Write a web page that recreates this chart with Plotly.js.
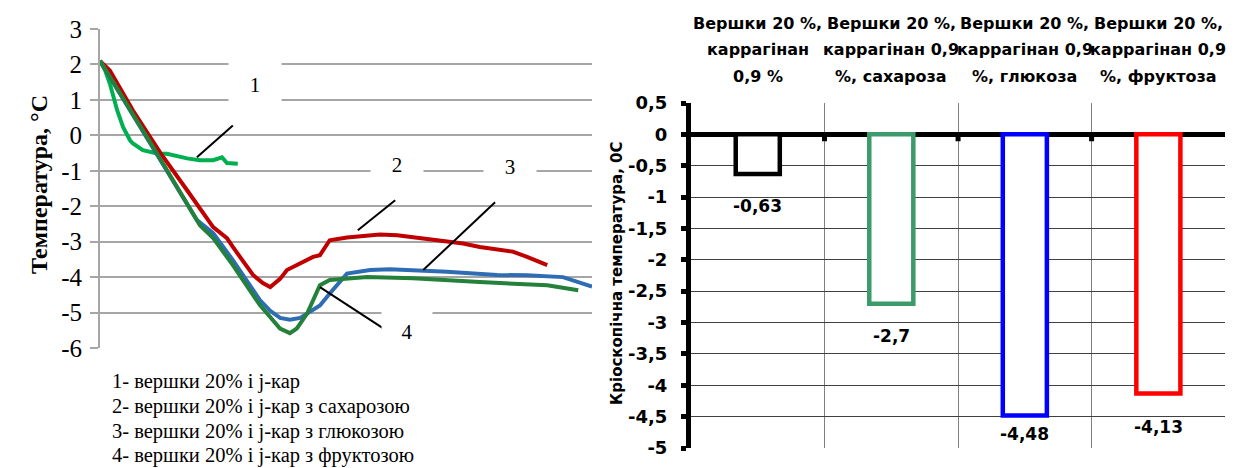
<!DOCTYPE html>
<html><head><meta charset="utf-8">
<script src="https://cdn.plot.ly/plotly-3.0.1.min.js"></script>
<style>html,body{margin:0;padding:0;background:#fff}#chart{width:1236px;height:468px}</style>
</head><body><div id="chart"></div>
<script>
// ---- Left chart: temperature curves (time in arbitrary units, temperature in °C)
const time1 = [0, 1.0, 2.0, 3.5, 4.7, 6.1, 6.7, 8.7, 11.6, 13.6, 17.7, 20.3, 23.0, 24.8, 25.8, 28.0];
const temp1 = [2.1, 1.85, 1.46, 0.70, 0.23, -0.14, -0.23, -0.42, -0.51, -0.52, -0.65, -0.70, -0.70, -0.62, -0.78, -0.80];

const time2 = [0, 2.0, 6.7, 12.2, 17.7, 23.0, 25.8, 27.0, 31.1, 33.1, 34.6, 36.6, 38.0, 39.2, 40.7, 43.3, 44.7, 46.7, 50.2, 56.9, 60.4, 65.7, 70.5, 73.8, 77.2, 83.9, 86.8, 90.9];
const temp2 = [2.1, 1.83, 0.7, -0.48, -1.55, -2.59, -2.9, -3.15, -3.94, -4.17, -4.28, -4.05, -3.8, -3.72, -3.6, -3.43, -3.38, -2.96, -2.88, -2.8, -2.82, -2.9, -3.0, -3.05, -3.15, -3.28, -3.43, -3.66];

const time3 = [0, 10.2, 19.7, 23.0, 27.0, 32.5, 34.6, 36.6, 38.6, 40.7, 43.3, 44.7, 46.7, 48.8, 50.2, 54.9, 58.9, 70.5, 80.7, 86.8, 94.1, 100];
const temp3 = [2.1, -0.2, -2.39, -2.76, -3.52, -4.65, -4.95, -5.15, -5.2, -5.15, -4.93, -4.8, -4.46, -4.1, -3.9, -3.8, -3.78, -3.85, -3.94, -3.95, -4.0, -4.27];

const time4 = [0, 10.8, 20.3, 23.0, 27.0, 32.5, 36.6, 38.6, 40.0, 42.1, 44.7, 46.7, 54.3, 63.6, 77.2, 90.9, 97.2];
const temp4 = [2.1, -0.33, -2.54, -2.9, -3.66, -4.79, -5.45, -5.58, -5.45, -5.03, -4.23, -4.08, -4.0, -4.03, -4.14, -4.23, -4.37];

const curveNames = ["1", "2", "3", "4"];
const legendLines = [
  "1- вершки 20% і j-кар",
  "2- вершки 20% і j-кар з сахарозою",
  "3- вершки 20% і j-кар з глюкозою",
  "4- вершки 20% і j-кар з фруктозою"
];
const leftTicks = [3, 2, 1, 0, -1, -2, -3, -4, -5, -6];

// ---- Right chart: cryoscopic temperature
const catLines = [
  ["Вершки 20 %,", "каррагінан", "0,9 %"],
  ["Вершки 20 %,", "каррагінан 0,9", "%, сахароза"],
  ["Вершки 20 %,", "каррагінан 0,9", "%, глюкоза"],
  ["Вершки 20 %,", "каррагінан 0,9", "%, фруктоза"]
];
const categories = catLines.map(l => l.join(" "));
const cryoValues = [-0.63, -2.7, -4.48, -4.13];
const rightTicks = [0.5, 0, -0.5, -1, -1.5, -2, -2.5, -3, -3.5, -4, -4.5, -5];

// ---- styles
const lineColors = ["#00B050", "#C00000", "#2E6DB4", "#23813A"];
const barColors = ["#000000", "#3D9A6B", "#0000FF", "#FF0000"];
const serif = "Liberation Serif, Times New Roman, serif";
const sans = "DejaVu Sans, Verdana, sans-serif";
const fmt = v => String(v).replace(".", ",");

const W = 1236, H = 468;
const L = {x0: 100, x1: 592, yTop: 29, yBot: 348};
const R = {x0: 691, x1: 1225, yTop: 103, yBot: 448};

const times = [time1, time2, time3, time4];
const temps = [temp1, temp2, temp3, temp4];
const traces = times.map((t, i) => ({
  type: "scatter", mode: "lines", x: t, y: temps[i], name: curveNames[i],
  xaxis: "x", yaxis: "y", line: {color: lineColors[i], width: 4}, hoverinfo: "skip"
}));
traces.push({
  type: "bar", x: categories, y: cryoValues, xaxis: "x2", yaxis: "y2", width: 0.33,
  marker: {color: "#FFFFFF", line: {color: barColors, width: 4.5}}, hoverinfo: "skip"
});

const annotations = [];
// curve number labels with white boxes
const labelPos = [
  {x: 31.5, y: 1.41, w: 50, h: 50},
  {x: 60.4, y: -0.85, w: 50, h: 36},
  {x: 83.3, y: -0.9, w: 50, h: 36},
  {x: 62.4, y: -5.55, w: 48, h: 46}
];
curveNames.forEach((n, i) => annotations.push({
  xref: "x", yref: "y", x: labelPos[i].x, y: labelPos[i].y, text: n, showarrow: false,
  bgcolor: "#FFFFFF", width: labelPos[i].w, height: labelPos[i].h,
  font: {family: serif, size: 21, color: "#000"}
}));
// legend text lines
const legendY = [381, 406, 431, 455];
legendLines.forEach((s, i) => annotations.push({
  xref: "paper", yref: "paper", x: 111 / W, y: (H - legendY[i]) / H, xanchor: "left", yanchor: "middle",
  text: s, showarrow: false, borderpad: 0, font: {family: serif, size: 20.5, color: "#000"}
}));
// left y title
annotations.push({
  xref: "paper", yref: "paper", x: 24 / W, y: (H - 185) / H, text: "Температура, °С", textangle: -90,
  showarrow: false, font: {family: serif, size: 24, color: "#000", weight: "bold"}
});
// right y title
annotations.push({
  xref: "paper", yref: "paper", x: 617 / W, y: (H - 273) / H, text: "Кріоскопічна температура, 0С", textangle: -90,
  showarrow: false, font: {family: sans, size: 15, color: "#000", weight: "bold"}
});
// category labels on top, one annotation per line
const catLineY = [23, 50, 77];
catLines.forEach((lines, i) => lines.forEach((s, j) => annotations.push({
  xref: "x2", yref: "paper", x: categories[i], y: (H - catLineY[j]) / H, yanchor: "middle",
  text: s, showarrow: false, font: {family: sans, size: 16, color: "#000", weight: "bold"}
})));
// value labels under bars
const valueShift = [-32, -32, -19, -34];
cryoValues.forEach((v, i) => annotations.push({
  xref: "x2", yref: "y2", x: categories[i], y: v, yshift: valueShift[i], yanchor: "middle",
  text: fmt(v), showarrow: false, font: {family: sans, size: 17, color: "#000", weight: "bold"}
}));

// leader lines
const leaders = [
  [27.0, 0.28, 19.7, -0.62],
  [60.0, -1.83, 52.4, -2.68],
  [80.3, -1.89, 65.7, -3.80],
  [44.7, -4.28, 57.5, -5.44]
];
const shapes = leaders.map(p => ({
  type: "line", xref: "x", yref: "y", x0: p[0], y0: p[1], x1: p[2], y1: p[3],
  line: {color: "#000", width: 2}, layer: "above"
}));
// small category-boundary tick marks on the zero line
for (let i = 1; i < categories.length; i++) {
  shapes.push({type: "line", xref: "x2", yref: "y2", x0: i - 0.5, x1: i - 0.5, y0: 0, y1: -0.11,
               line: {color: "#000", width: 5}, layer: "above"});
}

const layout = {
  width: W, height: H, margin: {l: 0, r: 0, t: 0, b: 0},
  paper_bgcolor: "#FFFFFF", plot_bgcolor: "rgba(0,0,0,0)", showlegend: false,
  xaxis: {domain: [L.x0 / W, L.x1 / W], range: [0, 100], showgrid: false, zeroline: false,
          showticklabels: false, showline: false, ticks: "", fixedrange: true},
  yaxis: {domain: [(H - L.yBot) / H, (H - L.yTop) / H], range: [-6, 3], tickvals: leftTicks,
          ticktext: leftTicks.map(fmt), showgrid: true, gridcolor: "#A6A6A6", gridwidth: 2,
          zeroline: false, showline: true, linecolor: "#A6A6A6", linewidth: 2,
          ticks: "outside", ticklen: 8, tickwidth: 2, tickcolor: "#A6A6A6", ticklabelstandoff: 3,
          tickfont: {family: serif, size: 25, color: "#000"}, fixedrange: true},
  xaxis2: {domain: [R.x0 / W, R.x1 / W], anchor: "y2", type: "category", range: [-0.5, 3.499],
           showticklabels: false, ticks: "", tickson: "boundaries", showgrid: true,
           gridcolor: "#808080", gridwidth: 1, zeroline: false, showline: false, fixedrange: true},
  yaxis2: {domain: [(H - R.yBot) / H, (H - R.yTop) / H], anchor: "x2", range: [-5, 0.5],
           tickvals: rightTicks, ticktext: rightTicks.map(fmt), showgrid: true, gridcolor: "#404040",
           gridwidth: 1, zeroline: true, zerolinecolor: "#000", zerolinewidth: 5,
           showline: true, linecolor: "#000", linewidth: 5, ticks: "outside", ticklen: 5,
           tickwidth: 5, tickcolor: "#000", ticklabelstandoff: 10,
           tickfont: {family: sans, size: 18, color: "#000", weight: "bold"}, fixedrange: true},
  annotations: annotations, shapes: shapes
};

Plotly.newPlot("chart", traces, layout, {staticPlot: true, displayModeBar: false});
</script>
</body></html>
